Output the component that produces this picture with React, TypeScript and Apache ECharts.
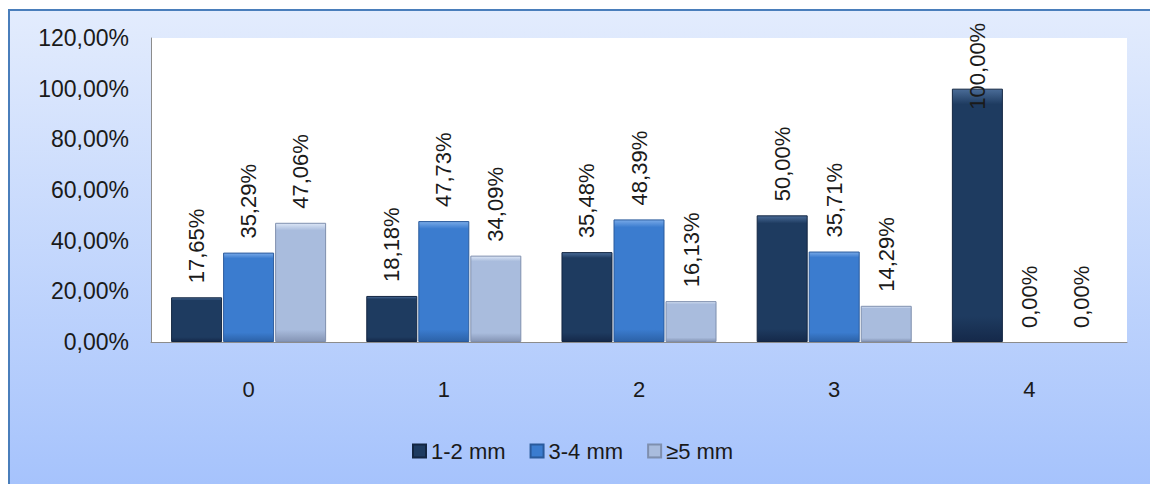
import React, { useEffect, useRef } from "react";
import * as echarts from "echarts";

const categories = ["0", "1", "2", "3", "4"];
const seriesNames = ["1-2 mm", "3-4 mm", "≥5 mm"];
const s12mm = [17.65, 18.18, 35.48, 50.0, 100.0];
const s34mm = [35.29, 47.73, 48.39, 35.71, 0.0];
const s5mm = [47.06, 34.09, 16.13, 14.29, 0.0];
const yTicks = [0, 20, 40, 60, 80, 100, 120];

const FONT = "Liberation Sans";

const fmt = (v: number) => v.toFixed(2).replace(".", ",") + "%";

const grad = (top: string, mid: string, bottom: string) =>
  new echarts.graphic.LinearGradient(0, 0, 0, 1, [
    { offset: 0, color: top },
    { offset: 0.06, color: mid },
    { offset: 0.9, color: mid },
    { offset: 1, color: bottom },
  ]);

export default function App() {
  const ref = useRef<HTMLDivElement>(null);
  useEffect(() => {
    if (!ref.current) return;
    const chart = echarts.init(ref.current, undefined, { renderer: "svg" });
    const labelBase = {
      show: true,
      position: "top" as const,
      rotate: 90,
      align: "left" as const,
      verticalAlign: "middle" as const,
      distance: 14,
      fontSize: 22,
      fontFamily: FONT,
      color: "#1a1a1a",
      formatter: (p: any) => fmt(p.value),
    };
    const colors = [
      { top: "#4a6c98", mid: "#1e3b60", bottom: "#15294a", border: "#132642" },
      { top: "#79aae8", mid: "#3b7ccf", bottom: "#2c62a8", border: "#2a5a9c" },
      { top: "#dce6f6", mid: "#a9bcdd", bottom: "#8595b5", border: "#7f8fae" },
    ];
    const datas = [s12mm, s34mm, s5mm];
    const series = datas.map((d, i) => ({
      name: seriesNames[i],
      type: "bar",
      barWidth: 51,
      barGap: "2%",
      itemStyle: {
        color: grad(colors[i].top, colors[i].mid, colors[i].bottom),
        borderColor: colors[i].border,
        borderWidth: 1,
      },
      label: labelBase,
      data: d.map((v) => {
        if (v >= 100) return { value: v, label: { ...labelBase, distance: -21 } };
        if (v === 0)
          return { value: v, itemStyle: { borderWidth: 0, color: "rgba(0,0,0,0)" } };
        return v;
      }),
    }));
    chart.setOption({
      animation: false,
      backgroundColor: "transparent",
      color: colors.map((c) => c.mid),
      graphic: [
        { type: "rect", shape: { x: 0, y: 1, width: 1150, height: 2 }, style: { fill: "#4a7ebb" } },
        { type: "rect", shape: { x: 0, y: 1, width: 2, height: 483 }, style: { fill: "#4a7ebb" } },
      ],
      grid: {
        left: 143,
        top: 30,
        right: 31,
        bottom: 150,
        show: true,
        backgroundColor: "#ffffff",
        borderWidth: 0,
      },
      legend: {
        top: 432,
        left: 404,
        itemWidth: 13,
        itemHeight: 13,
        itemGap: 24,
        icon: "rect",
        padding: 0,
        textStyle: { fontSize: 22, fontFamily: FONT, color: "#1a1a1a" },
        data: seriesNames,
      },
      xAxis: {
        type: "category",
        data: categories,
        axisLine: { show: true, lineStyle: { color: "#8c8c8c", width: 1 } },
        axisTick: { show: false },
        axisLabel: { fontSize: 22, fontFamily: FONT, color: "#1a1a1a", margin: 36 },
      },
      yAxis: {
        type: "value",
        min: yTicks[0],
        max: yTicks[yTicks.length - 1],
        interval: 20,
        axisLine: { show: true, lineStyle: { color: "#8c8c8c", width: 1 } },
        axisTick: { show: false },
        splitLine: { show: false },
        axisLabel: {
          fontSize: 23,
          fontFamily: FONT,
          color: "#1a1a1a",
          margin: 22,
          formatter: (v: number) => fmt(v),
        },
      },
      series,
    });
    return () => chart.dispose();
  }, []);
  return (
    <div
      ref={ref}
      style={{
        position: "fixed",
        left: 8,
        top: 8,
        width: 1150,
        height: 484,
        background: "linear-gradient(to bottom, #ffffff 0px, #ffffff 1px, #e3ecfd 1px, #a6c3fc 476px)",
      }}
    />
  );
}
